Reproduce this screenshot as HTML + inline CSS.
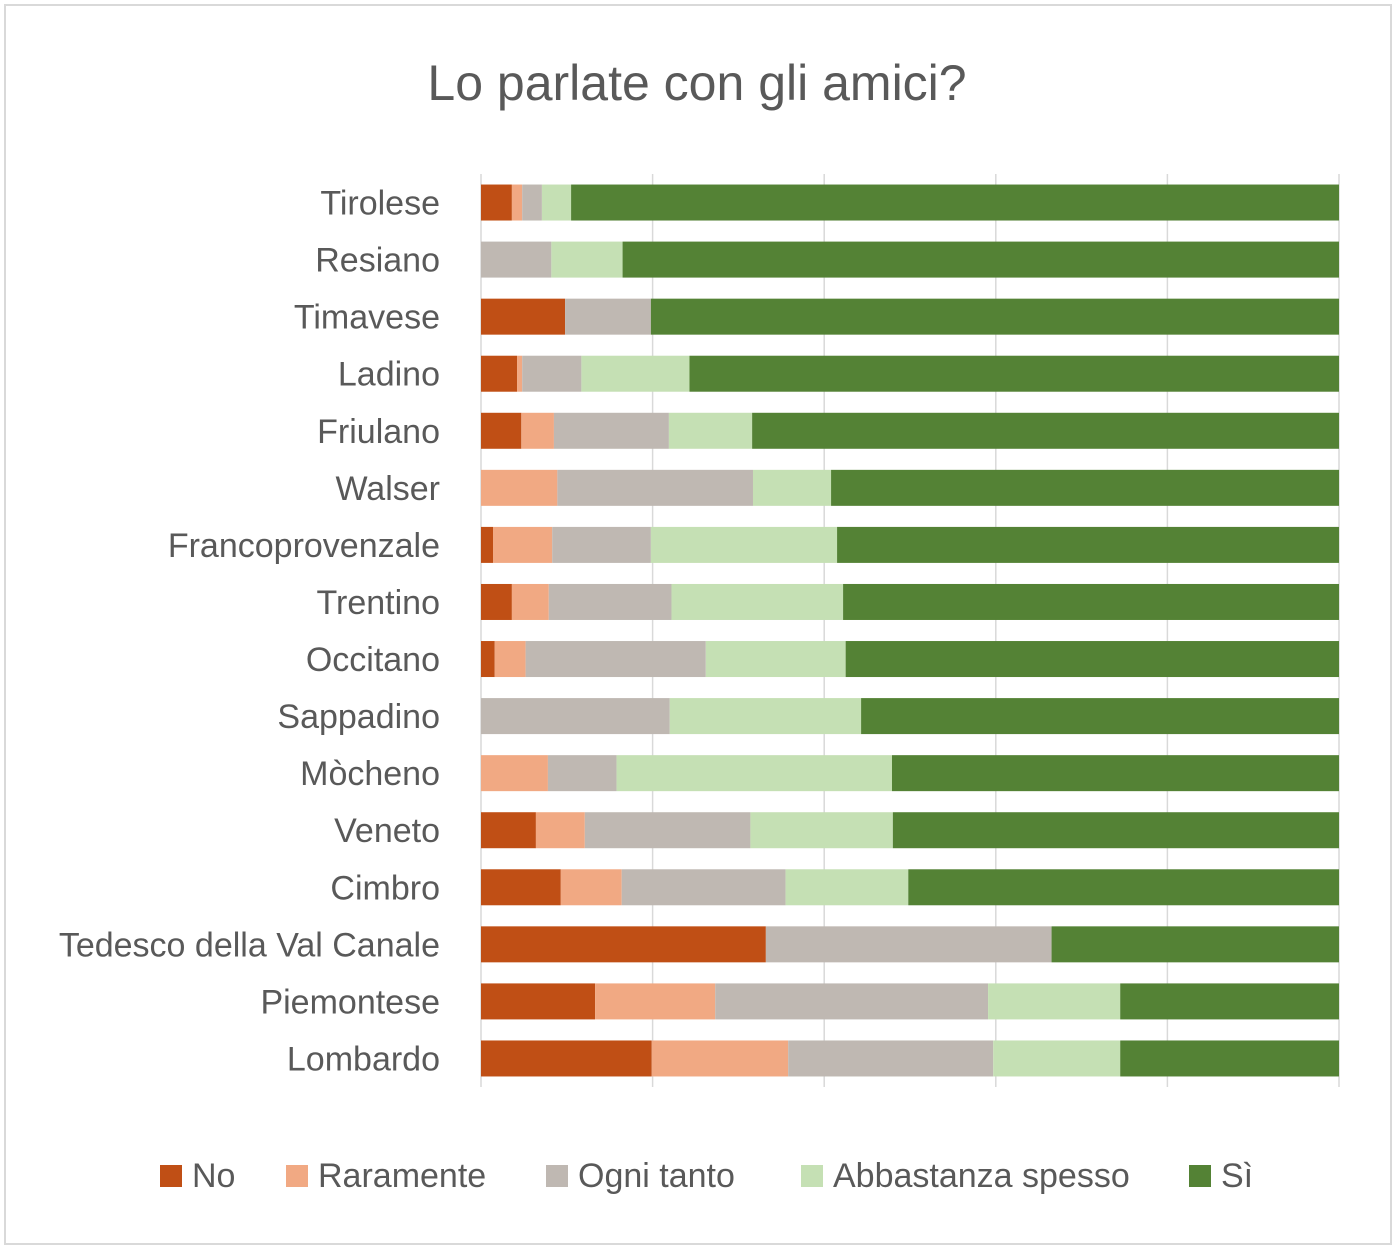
<!DOCTYPE html>
<html><head><meta charset="utf-8"><style>
body{margin:0;background:#fff;}
svg text{font-family:"Liberation Sans",sans-serif;fill:#595959;}
</style></head><body>
<svg id="chart" width="1397" height="1251" viewBox="0 0 1397 1251">
<rect x="5" y="5" width="1386" height="1239" fill="#fff" stroke="#d9d9d9" stroke-width="2"/>
<text x="697" y="100" text-anchor="middle" font-size="50">Lo parlate con gli amici?</text>
<g id="grid"></g><g id="bars"></g><g id="labels"></g><g id="legend"></g>
</svg>
<script>
const categories=["Tirolese","Resiano","Timavese","Ladino","Friulano","Walser","Francoprovenzale","Trentino","Occitano","Sappadino","Mòcheno","Veneto","Cimbro","Tedesco della Val Canale","Piemontese","Lombardo"];
const seriesNames=["No","Raramente","Ogni tanto","Abbastanza spesso","Sì"];
const noVals=[3.6,0,9.8,4.2,4.7,0,1.4,3.6,1.6,0,0,6.4,9.3,33.2,13.3,19.9];
const rarVals=[1.2,0,0,0.6,3.8,8.9,6.9,4.3,3.6,0,7.8,5.7,7.1,0,14.0,15.9];
const ogniVals=[2.3,8.2,10.0,6.9,13.4,22.8,11.5,14.3,21.0,22.0,8.0,19.3,19.1,33.3,31.8,23.9];
const abbVals=[3.4,8.3,0,12.6,9.7,9.1,21.7,20.0,16.3,22.3,32.1,16.6,14.3,0,15.4,14.8];
const siVals=categories.map((c,i)=>100-noVals[i]-rarVals[i]-ogniVals[i]-abbVals[i]);
const colors=["#C04F15","#F1A983","#BFB8B2","#C5E0B4","#548235"];
const NS="http://www.w3.org/2000/svg";
const x0=481,x1=1339,yTop=174,yBot=1087;
const xs=v=>x0+(x1-x0)*v/100;
const band=(yBot-yTop)/categories.length;
const yc=i=>yTop+band*(i+0.5);
const barH=36;
function mk(t,a){const e=document.createElementNS(NS,t);for(const k in a)e.setAttribute(k,a[k]);return e;}
const grid=document.getElementById('grid');
for(let v=0;v<=100;v+=20){
 const l=mk('line',{x1:xs(v),x2:xs(v),y1:yTop,y2:yBot,stroke:'#d9d9d9','stroke-width':1.5});
 
 
 grid.appendChild(l);
}
const series=[noVals,rarVals,ogniVals,abbVals,siVals];
const bars=document.getElementById('bars'),labels=document.getElementById('labels');
categories.forEach((c,i)=>{
 let acc=0;
 series.forEach((s,j)=>{
  const v=s[i];
  if(v>0){
   const r=mk('rect',{x:xs(acc),y:yc(i)-barH/2,width:xs(acc+v)-xs(acc),height:barH,fill:colors[j]});
   
   
   bars.appendChild(r);
  }
  acc+=v;
 });
 const t=mk('text',{x:440,y:yc(i)+12,'text-anchor':'end','font-size':34});
 t.textContent=c;
 
 
 labels.appendChild(t);
});
const legend=document.getElementById('legend');
const legX=[160,286,546,801,1189];
seriesNames.forEach((n,j)=>{
 const g=mk('g',{});
 
 
 g.appendChild(mk('rect',{x:legX[j],y:1165,width:22,height:22,fill:colors[j]}));
 const t=mk('text',{x:legX[j]+32,y:1187,'font-size':34});
 t.textContent=n;
 g.appendChild(t);
 legend.appendChild(g);
});
</script>
</body></html>
